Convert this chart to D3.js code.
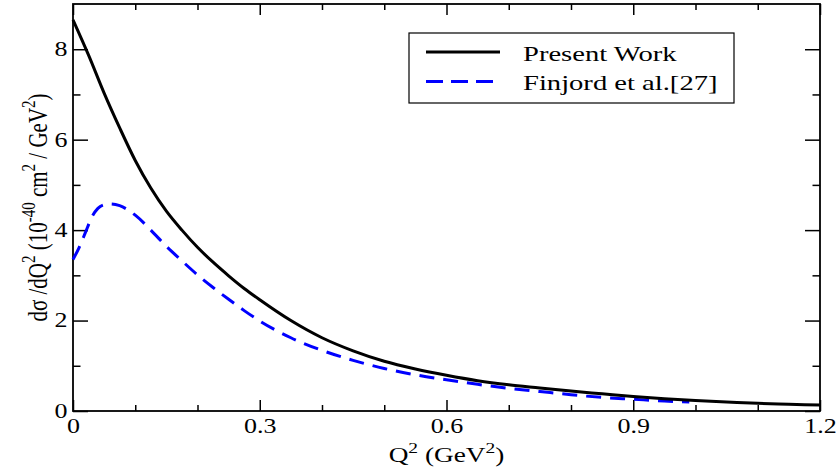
<!DOCTYPE html>
<html lang="en">
    <head>
        <meta charset="utf-8"/>
        <script src="https://d3js.org/d3.v7.min.js"></script>
        <style>
            body { margin: 0; background: #fff; }
            text { font-family: "Liberation Serif", "Times New Roman", serif; }
        </style>
    </head>
    <body>
        <div id="chart"></div>
    </body>
    <script>
        // values
        var q2Present = [0, 0.025, 0.05, 0.075, 0.1, 0.125, 0.15, 0.175, 0.2, 0.225, 0.25, 0.275, 0.3, 0.35, 0.4, 0.45, 0.5,
                         0.55, 0.6, 0.65, 0.7, 0.75, 0.8, 0.85, 0.9, 0.95, 1.0, 1.05, 1.1, 1.15, 1.2];
        var sigmaPresent = [8.65, 7.87, 7.03, 6.26, 5.54, 4.93, 4.42, 4.00, 3.62, 3.29, 2.99, 2.71, 2.46, 2.00, 1.62, 1.33, 1.10,
                            0.93, 0.79, 0.67, 0.58, 0.51, 0.44, 0.38, 0.32, 0.27, 0.23, 0.20, 0.17, 0.15, 0.13];

        var q2Finjord = [0, 0.01, 0.02, 0.03, 0.04, 0.05, 0.06, 0.075, 0.1, 0.125, 0.15, 0.175, 0.2, 0.225, 0.25, 0.275, 0.3,
                         0.35, 0.4, 0.45, 0.5, 0.55, 0.6, 0.65, 0.7, 0.75, 0.8, 0.85, 0.9, 0.95, 0.99];
        var sigmaFinjord = [3.35, 3.62, 3.95, 4.28, 4.48, 4.56, 4.58, 4.54, 4.33, 4.00, 3.64, 3.32, 3.01, 2.73, 2.47, 2.22, 1.99,
                            1.62, 1.34, 1.12, 0.94, 0.80, 0.69, 0.59, 0.50, 0.43, 0.36, 0.30, 0.26, 0.22, 0.20];

        var xMajor = [0, 0.3, 0.6, 0.9, 1.2];
        var xMinor = [0.1, 0.2, 0.4, 0.5, 0.7, 0.8, 1.0, 1.1];
        var yMajor = [0, 2, 4, 6, 8];
        var yMinor = [1, 3, 5, 7];
        var seriesNames = ["Present Work", "Finjord et al.[27]"];

        var margin = {top: 4, right: 17, bottom: 58, left: 73};
        var width = 837 - margin.left - margin.right;
        var height = 469 - margin.top - margin.bottom;
        var stretch = "scale(1.3,1)";

        var svg = d3.select("#chart")
            .append("svg")
                .attr("width", 837)
                .attr("height", 469)
            .append("g")
                .attr("transform", "translate(" + margin.left + "," + margin.top + ")");

        var x = d3.scaleLinear().domain([0, 1.2]).range([0, width]);
        var y = d3.scaleLinear().domain([0, 9]).range([height, 0]);

        function clean(g) {
            g.select(".domain").remove();
            g.selectAll("line").attr("stroke", "#000").attr("stroke-width", 1.5);
        }

        // bottom axis
        svg.append("g")
            .attr("transform", "translate(0," + height + ")")
            .call(d3.axisBottom(x).tickValues(xMajor).tickSize(-11).tickPadding(8)
                .tickFormat(function (d) { return d === 0 ? "0" : d3.format(".1f")(d); }))
            .call(clean)
            .call(function (g) {
                g.selectAll("text").attr("font-size", 20).attr("fill", "#000").attr("transform", stretch);
            });
        svg.append("g")
            .attr("transform", "translate(0," + height + ")")
            .call(d3.axisBottom(x).tickValues(xMinor).tickSize(-6).tickFormat(""))
            .call(clean);

        // top axis
        svg.append("g")
            .call(d3.axisTop(x).tickValues(xMajor).tickSize(-11).tickFormat(""))
            .call(clean);
        svg.append("g")
            .call(d3.axisTop(x).tickValues(xMinor).tickSize(-6).tickFormat(""))
            .call(clean);

        // left axis
        svg.append("g")
            .call(d3.axisLeft(y).tickValues(yMajor).tickSize(-15).tickPadding(4.2))
            .call(clean)
            .call(function (g) {
                g.selectAll("text").attr("font-size", 20).attr("fill", "#000").attr("transform", stretch);
            });
        svg.append("g")
            .call(d3.axisLeft(y).tickValues(yMinor).tickSize(-7.5).tickFormat(""))
            .call(clean);

        // right axis
        svg.append("g")
            .attr("transform", "translate(" + width + ",0)")
            .call(d3.axisRight(y).tickValues(yMajor).tickSize(-15).tickFormat(""))
            .call(clean);
        svg.append("g")
            .attr("transform", "translate(" + width + ",0)")
            .call(d3.axisRight(y).tickValues(yMinor).tickSize(-7.5).tickFormat(""))
            .call(clean);

        // frame
        svg.append("rect")
            .attr("width", width)
            .attr("height", height)
            .attr("fill", "none")
            .attr("stroke", "#000")
            .attr("stroke-width", 1.8);

        var line = d3.line()
            .x(function (d) { return x(d[0]); })
            .y(function (d) { return y(d[1]); })
            .curve(d3.curveMonotoneX);

        svg.append("path")
            .datum(d3.zip(q2Finjord, sigmaFinjord))
            .attr("d", line)
            .attr("fill", "none")
            .attr("stroke", "#0000ff")
            .attr("stroke-width", 3)
            .attr("stroke-dasharray", "15,9");

        svg.append("path")
            .datum(d3.zip(q2Present, sigmaPresent))
            .attr("d", line)
            .attr("fill", "none")
            .attr("stroke", "#000")
            .attr("stroke-width", 3);

        // axis titles
        function sup(t, s) {
            t.append("tspan").attr("font-size", 15).attr("dy", -9).text(s);
        }

        var xt = svg.append("text")
            .attr("transform", "translate(" + (width / 2) + "," + (height + 51) + ") " + stretch)
            .attr("text-anchor", "middle")
            .attr("font-size", 21);
        xt.append("tspan").text("Q");
        sup(xt, "2");
        xt.append("tspan").attr("dy", 9).text(" (GeV");
        sup(xt, "2");
        xt.append("tspan").attr("dy", 9).text(")");

        var yt = svg.append("text")
            .attr("transform", "translate(-26," + (height / 2) + ") " + stretch + " rotate(-90)")
            .attr("text-anchor", "middle")
            .attr("font-size", 21);
        yt.append("tspan").text("d\u03c3 /dQ");
        sup(yt, "2");
        yt.append("tspan").attr("dy", 9).text(" (10");
        sup(yt, "-40");
        yt.append("tspan").attr("dy", 9).text(" cm");
        sup(yt, "2");
        yt.append("tspan").attr("dy", 9).text(" / GeV");
        sup(yt, "2");
        yt.append("tspan").attr("dy", 9).text(")");

        // legend
        var legend = svg.append("g").attr("transform", "translate(336,29)");
        legend.append("rect")
            .attr("width", 325)
            .attr("height", 70)
            .attr("fill", "#fff")
            .attr("stroke", "#000")
            .attr("stroke-width", 1.2);
        var styles = [{color: "#000", dash: null}, {color: "#0000ff", dash: "17,8"}];
        seriesNames.forEach(function (name, i) {
            var row = legend.append("g").attr("transform", "translate(0," + (19 + i * 29.5) + ")");
            row.append("line")
                .attr("x1", 17).attr("x2", 91)
                .attr("stroke", styles[i].color)
                .attr("stroke-width", 3)
                .attr("stroke-dasharray", styles[i].dash);
            row.append("text")
                .attr("transform", "translate(114,8.5) " + stretch)
                .attr("font-size", 22)
                .text(name);
        });
    </script>
</html>
